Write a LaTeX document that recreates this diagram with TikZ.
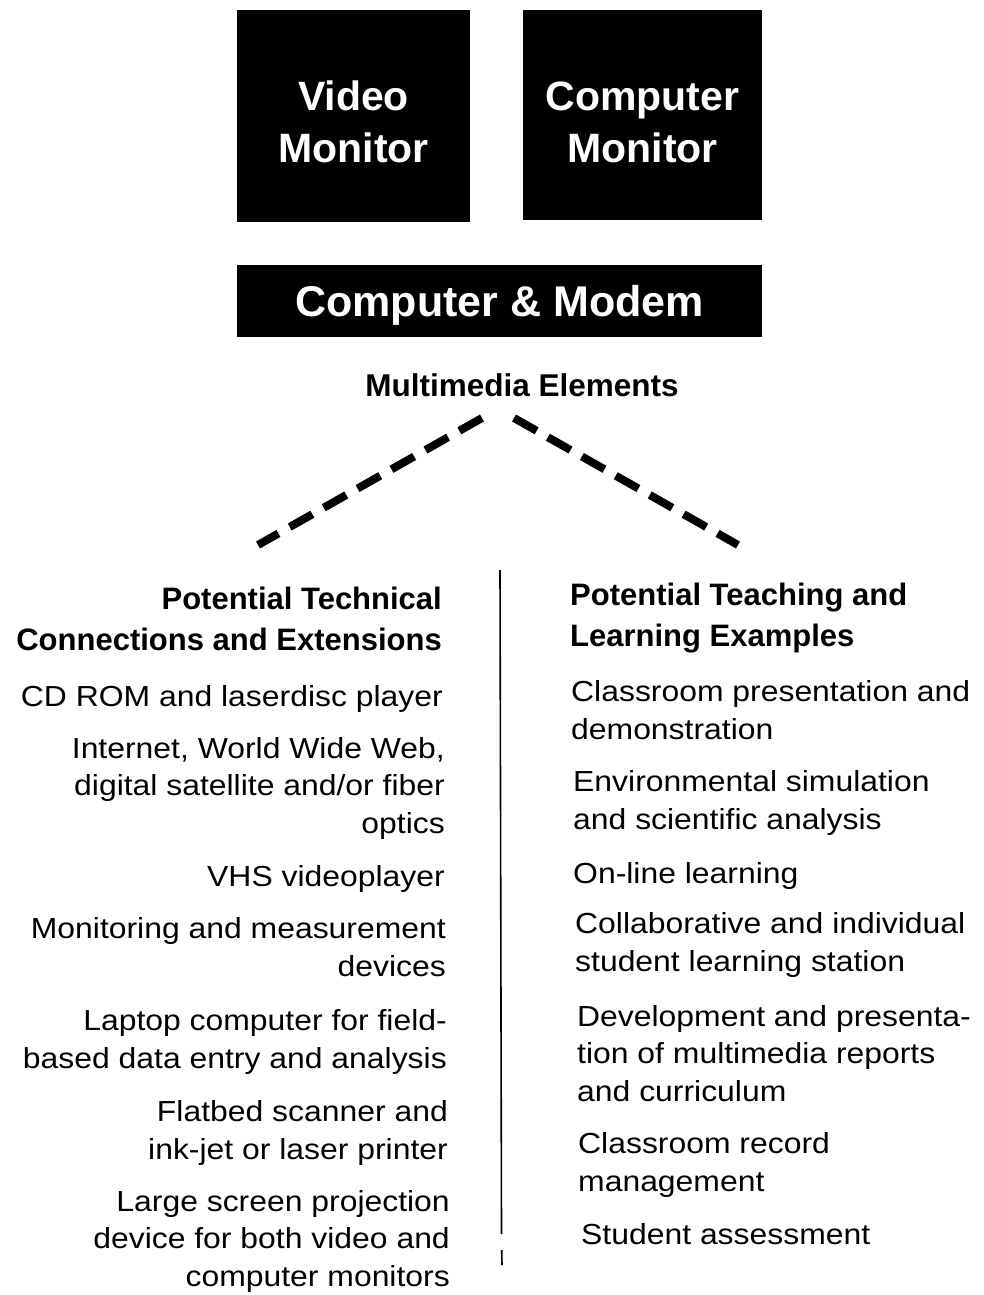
\documentclass[tikz,border=0pt]{standalone}
\usepackage{fontspec}
\setmainfont{Liberation Sans}
\newfontfamily\bodyfont[FakeStretch=1.1]{Liberation Sans}
\begin{document}
\begin{tikzpicture}[x=1pt,y=-1pt,
  blackbox/.style={fill=black, draw=none, inner sep=0pt},
  boxtext/.style={text=white, align=center, inner sep=0pt,
    font=\fontsize{41}{52}\selectfont\bfseries},
  body/.style={font=\bodyfont\fontsize{29}{37.5}\selectfont, inner sep=0pt},
  head/.style={font=\fontsize{31}{41}\selectfont\bfseries, inner sep=0pt},
  lcol/.style={body, align=right, anchor=base east},
  rcol/.style={body, align=left, anchor=base west},
  lhead/.style={head, align=right, anchor=base east},
  rhead/.style={head, align=left, anchor=base west},
  thickdash/.style={line width=8pt, dash pattern=on 26pt off 13pt},
  divider/.style={line width=1.6pt},
]
\useasboundingbox (0,0) rectangle (983,1295);

% black boxes
\node[blackbox, minimum width=233pt, minimum height=211pt] (vm) at (353.5,116) {};
\node[boxtext] (vmt) at ([yshift=-6pt]vm.center) {Video\\Monitor};
\node[blackbox, minimum width=239pt, minimum height=210pt] (cm) at (642.5,115) {};
\node[boxtext] (cmt) at ([yshift=-7pt]cm.center) {Computer\\Monitor};
\node[blackbox, minimum width=525pt, minimum height=72pt] (cmod) at (499.5,301) {};
\node[boxtext, font=\fontsize{43}{52}\selectfont\bfseries] (cmodt) at ([yshift=-4pt]cmod.center) {Computer \& Modem};

\node[head, font=\fontsize{31.5}{40}\selectfont\bfseries] (me) at (522,385) {Multimedia Elements};

% dashed connectors
\coordinate (ltop) at (482,418);
\coordinate (lbot) at (258,545);
\coordinate (rtop) at (514,418);
\coordinate (rbot) at (738,545);
\draw[thickdash] (ltop) -- (lbot);
\draw[thickdash] (rtop) -- (rbot);

% divider
\coordinate (dtop) at (500,570);
\coordinate (dmid) at (501.5,1234);
\coordinate (dlow) at (501.7,1250);
\coordinate (dbot) at (502,1265);
\draw[divider] (dtop) -- (dmid);
\draw[divider] (dlow) -- (dbot);

% left column (anchor = baseline of last line)
\node[lhead] (lh) at (442,650) {Potential Technical\\Connections and Extensions};
\node[lcol] (l1) at (443,706) {CD ROM and laserdisc player};
\node[lcol] (l2) at (445,833) {Internet, World Wide Web,\\digital satellite and/or fiber\\optics};
\node[lcol] (l3) at (445,886) {VHS videoplayer};
\node[lcol] (l4) at (446,976) {Monitoring and measurement\\devices};
\node[lcol] (l5) at (447,1068) {Laptop computer for field-\\based data entry and analysis};
\node[lcol] (l6) at (448,1159) {Flatbed scanner and\\ink-jet or laser printer};
\node[lcol] (l7) at (450,1286) {Large screen projection\\device for both video and\\computer monitors};

% right column
\node[rhead] (rh) at (570,646) {Potential Teaching and\\Learning Examples};
\node[rcol] (r1) at (571,739) {Classroom presentation and\\demonstration};
\node[rcol] (r2) at (573,829) {Environmental simulation\\and scientific analysis};
\node[rcol] (r3) at (573,883) {On-line learning};
\node[rcol] (r4) at (575,971) {Collaborative and individual\\student learning station};
\node[rcol] (r5) at (577,1101) {Development and presenta-\\tion of multimedia reports\\and curriculum};
\node[rcol] (r6) at (578,1191) {Classroom record\\management};
\node[rcol] (r7) at (581,1244) {Student assessment};
\end{tikzpicture}
\end{document}
